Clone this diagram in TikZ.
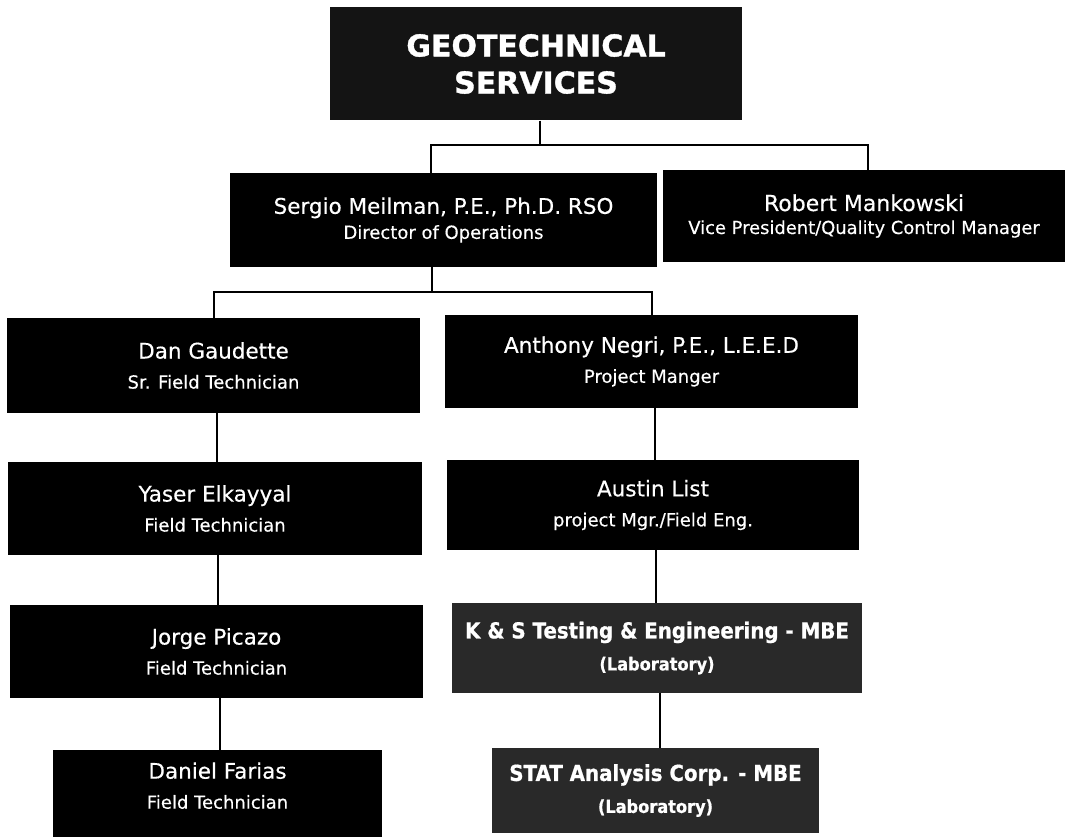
\documentclass[tikz,border=0pt]{standalone}
\usepackage{fontspec}
\setmainfont{DejaVu Sans}[FakeBold=0.4, BoldFeatures={FakeBold=1.2}]
\newfontfamily\condfont{DejaVu Sans}[FakeStretch=0.9, BoldFeatures={FakeBold=0.8}]
\newcommand*{\namefont}{\fontsize{21.5}{26}\selectfont}
\newcommand*{\rolefont}{\fontsize{18}{30}\selectfont}
\newcommand*{\person}[2]{{\namefont #1}\\#2}
\begin{document}
\begin{tikzpicture}[x=1pt,y=-1pt,
    unit/.style={fill=black, text=white, inner sep=0pt, align=center, font=\rolefont},
    lab/.style={fill=black!84, text=white, inner sep=0pt, align=center,
      font=\condfont\bfseries\fontsize{18}{32}\selectfont},
    link/.style={line width=2pt}]
  \useasboundingbox (0,0) rectangle (1067,837);

  % top of the chart
  \node[unit, fill=black!92, minimum width=412pt, minimum height=113pt,
    font=\bfseries\fontsize{30}{37}\selectfont] (geo) at (536,64) {GEOTECHNICAL\\SERVICES};
  \node[unit, minimum width=427pt, minimum height=94pt, font=\fontsize{18}{25}\selectfont]
    (sergio) at (443.5,220) {\person{Sergio Meilman, P.E., Ph.D. RSO}{Director of Operations}};
  \node[unit, minimum width=402pt, minimum height=92pt, font=\fontsize{17.9}{23}\selectfont]
    (robert) at (864,216) {{\fontsize{22}{26}\selectfont Robert Mankowski}\\Vice President/Quality Control Manager};

  % field side
  \node[unit, minimum width=413pt, minimum height=95pt] (dan) at (213.5,365.5) {\person{Dan Gaudette}{Sr. Field Technician}};
  \node[unit, minimum width=414pt, minimum height=93pt] (yaser) at (215,508.5) {\person{Yaser Elkayyal}{Field Technician}};
  \node[unit, minimum width=413pt, minimum height=93pt] (jorge) at (216.5,651.5) {\person{Jorge Picazo}{Field Technician}};
  \node[unit, minimum width=329pt, minimum height=87pt, text depth=16pt] (daniel) at (217.5,793.5) {\person{Daniel Farias}{Field Technician}};

  % project side
  \node[unit, minimum width=413pt, minimum height=93pt] (anthony) at (651.5,361.5) {\person{Anthony Negri, P.E., L.E.E.D}{Project Manger}};
  \node[unit, minimum width=412pt, minimum height=90pt] (austin) at (653,505) {\person{Austin List}{project Mgr./Field Eng.}};
  \node[lab, minimum width=410pt, minimum height=90pt] (ks) at (657,648)
    {{\fontsize{22}{26}\selectfont K \& S Testing \& Engineering - MBE}\\(Laboratory)};
  \node[lab, minimum width=327pt, minimum height=85pt] (stat) at (655.5,790.5)
    {{\fontsize{22}{26}\selectfont STAT Analysis Corp. - MBE}\\(Laboratory)};

  % connectors
  \coordinate (bus1) at (540,145);
  \coordinate (bus2) at (432,292);
  \draw[link] (bus1 |- geo.south) -- (bus1);
  \draw[link] ([xshift=-13pt]sergio.north) |- (bus1) -| ([xshift=4pt]robert.north);
  \draw[link] (bus2 |- sergio.south) -- (bus2);
  \draw[link] (dan.north) |- (bus2) -| (anthony.north);
  \foreach \a/\b in {dan/yaser, yaser/jorge, jorge/daniel, anthony/austin, austin/ks, ks/stat}
    \draw[link] ([xshift=3pt]\a.south) -- ([xshift=3pt]\a.south |- \b.north);
\end{tikzpicture}
\end{document}
